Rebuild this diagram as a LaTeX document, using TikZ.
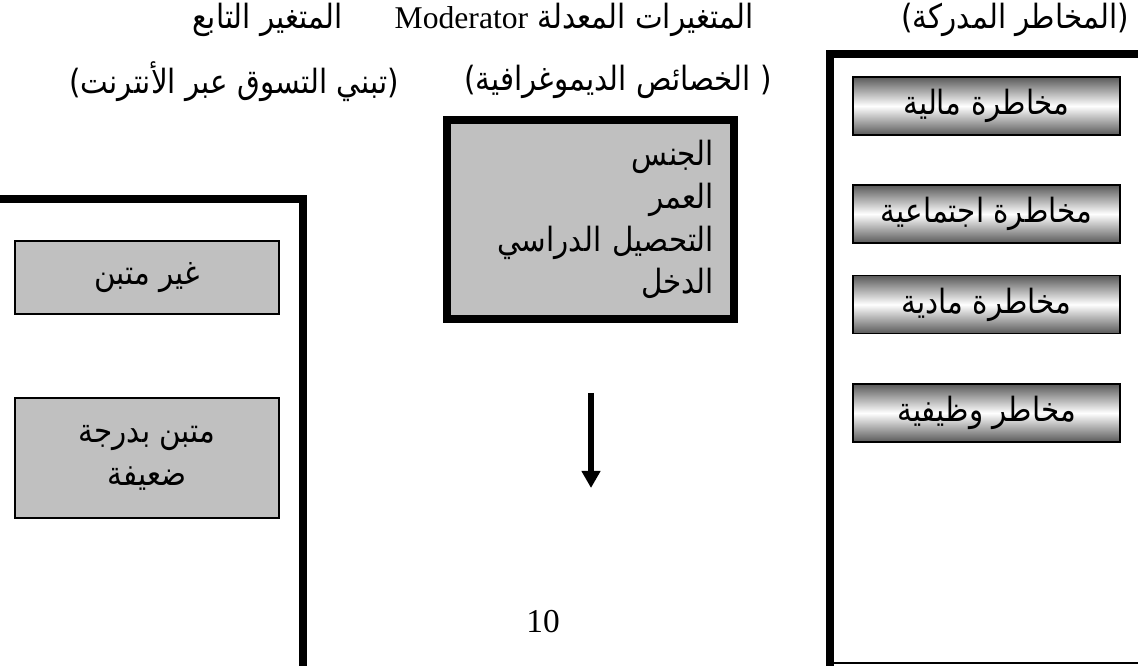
\documentclass[tikz,border=0pt]{standalone}
\usepackage{fontspec}
\setmainfont{Liberation Serif}
\newfontfamily\arabicfont[Script=Arabic, FakeStretch=0.88]{DejaVu Sans}
\TeXXeTstate=1
\usetikzlibrary{arrows.meta}
\definecolor{boxgray}{HTML}{C0C0C0}
\newcommand{\artxt}[1]{{\arabicfont\beginR #1\endR}}
\newcommand{\fsize}{\fontsize{19}{24.4}\selectfont}

\begin{document}
\begin{tikzpicture}[riskbox/.style={draw, line width=0.8pt, top color=black!65, bottom color=black!65, middle color=white, minimum width=5.34cm, minimum height=1.16cm, inner sep=0pt, font=\fsize},
    graybox/.style={draw, line width=0.8pt, fill=boxgray, minimum width=5.28cm, inner sep=0pt, align=center, font=\fsize},
    demobox/.style={draw, line width=4.5pt, fill=boxgray, minimum height=3.98cm, text width=4.94cm, inner xsep=0.4cm, align=right, font=\fsize},
    title/.style={inner sep=0pt, font=\fsize}]
    \useasboundingbox (0,0) rectangle (22.76,13.32);

    % Titles
    \node[title] (risktitle) at (20.3,12.92) {\artxt{(المخاطر المدركة)}};
    \node[title] (modtitle) at (11.48,12.92) {\artxt{المتغيرات المعدلة \beginL{\normalfont\fontsize{18}{24}\selectfont Moderator}\endL}};
    \node[title] (demotitle) at (12.36,11.68) {\artxt{( الخصائص الديموغرافية)}};
    \node[title] (deptitle) at (5.35,12.92) {\artxt{المتغير التابع}};
    \node[title] (adopttitle) at (4.68,11.68) {\artxt{(تبني التسوق عبر الأنترنت)}};

    % Frames
    \draw[line width=4.5pt] (22.9,12.24) -- (16.6,12.24) -- (16.6,-0.1);
    \draw[line width=0.8pt] (16.6,0.06) -- (22.9,0.06);
    \draw[line width=4.5pt] (-0.1,9.34) -- (6.06,9.34) -- (6.06,-0.1);

    % Right column
    \node[riskbox] (risk-1) at (19.73,11.2) {\artxt{مخاطرة مالية}};
    \node[riskbox] (risk-2) at (19.73,9.04) {\artxt{مخاطرة اجتماعية}};
    \node[riskbox] (risk-3) at (19.73,7.23) {\artxt{مخاطرة مادية}};
    \node[riskbox] (risk-4) at (19.73,5.06) {\artxt{مخاطر وظيفية}};

    % Middle column
    \node[demobox] (demo) at (11.81,8.93) {\artxt{الجنس}\\ \artxt{العمر}\\ \artxt{التحصيل الدراسي}\\ \artxt{الدخل}};
    \coordinate (arrow-top) at (11.82,5.46);
    \coordinate (arrow-tip) at (11.82,3.56);
    \draw[line width=3.4pt, -{Triangle[width=0.36cm,length=0.34cm]}] (arrow-top) -- (arrow-tip);
    \node[title] (pagenum) at (10.86,0.88) {10};

    % Left column
    \node[graybox, minimum height=1.46cm] (adopt-1) at (2.94,7.77) {\artxt{غير متبن}};
    \node[graybox, minimum height=2.4cm] (adopt-2) at (2.94,4.16) {\artxt{متبن بدرجة}\\ \artxt{ضعيفة}};

\end{tikzpicture}
\end{document}
